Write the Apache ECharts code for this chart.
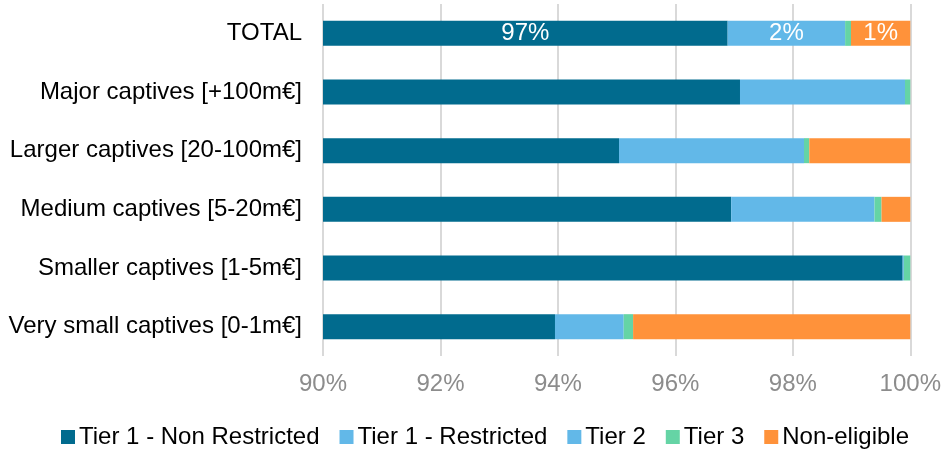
<!DOCTYPE html>
<html>
<head>
<meta charset="utf-8">
<script src="https://cdn.jsdelivr.net/npm/echarts@6/dist/echarts.min.js"></script>
<style>
  html, body { margin: 0; padding: 0; background: #fff; }
  #chart { width: 944px; height: 450px; }
</style>
</head>
<body>
<div id="chart"></div>
<script>
// categories, top to bottom
const categories = [
  'TOTAL',
  'Major captives [+100m€]',
  'Larger captives [20-100m€]',
  'Medium captives [5-20m€]',
  'Smaller captives [1-5m€]',
  'Very small captives [0-1m€]'
]

// shares in %
const tier1NonRestricted = [96.89, 97.10, 95.04, 96.95, 99.87, 93.95]
const tier1Restricted = [0, 0, 0, 0, 0, 0]
const tier2 = [2.00, 2.81, 3.15, 2.44, 0.02, 1.17]
const tier3 = [0.10, 0.09, 0.09, 0.12, 0.11, 0.16]
const nonEligible = [1.01, 0, 1.72, 0.49, 0, 4.72]

const xTicks = [90, 92, 94, 96, 98, 100]

const FONT = '"Liberation Sans", Arial, sans-serif'

const chart = echarts.init(document.getElementById('chart'))

// only the TOTAL row carries labels
const totalLabel = {
  show: true,
  position: 'inside',
  color: '#fff',
  fontSize: 24,
  fontFamily: FONT,
  formatter: p => (p.dataIndex === 0 && p.value >= 0.5) ? Math.round(p.value) + '%' : ''
}

const makeSeries = (name, data, color) => ({
  name,
  type: 'bar',
  stack: 'all',
  barWidth: 25,
  data,
  itemStyle: { color },
  label: totalLabel,
  emphasis: { disabled: true }
})

chart.setOption({
  animation: false,
  backgroundColor: '#fff',
  grid: { left: 323, right: 32, top: 4, bottom: 94 },
  legend: {
    top: 420,
    left: 56,
    icon: 'rect',
    itemWidth: 14,
    itemHeight: 14,
    itemGap: 20,
    textStyle: { fontSize: 24, color: '#000', fontFamily: FONT, padding: [0, 0, 0, -1] }
  },
  xAxis: {
    type: 'value',
    min: xTicks[0],
    max: xTicks[xTicks.length - 1],
    interval: 2,
    axisLine: { show: false },
    axisTick: { show: false },
    axisLabel: { formatter: '{value}%', color: '#8c8c8c', fontSize: 24, fontFamily: FONT, margin: 16 },
    splitLine: { lineStyle: { color: '#d9d9d9', width: 2 } }
  },
  yAxis: {
    type: 'category',
    inverse: true,
    data: categories,
    axisLine: { show: false },
    axisTick: { show: false },
    axisLabel: { color: '#000', fontSize: 24, fontFamily: FONT, margin: 21 }
  },
  series: [
    makeSeries('Tier 1 - Non Restricted', tier1NonRestricted, '#016b8e'),
    makeSeries('Tier 1 - Restricted', tier1Restricted, '#62b8e8'),
    makeSeries('Tier 2', tier2, '#62b8e8'),
    makeSeries('Tier 3', tier3, '#65d4a5'),
    makeSeries('Non-eligible', nonEligible, '#ff923a')
  ]
})
</script>
</body>
</html>
